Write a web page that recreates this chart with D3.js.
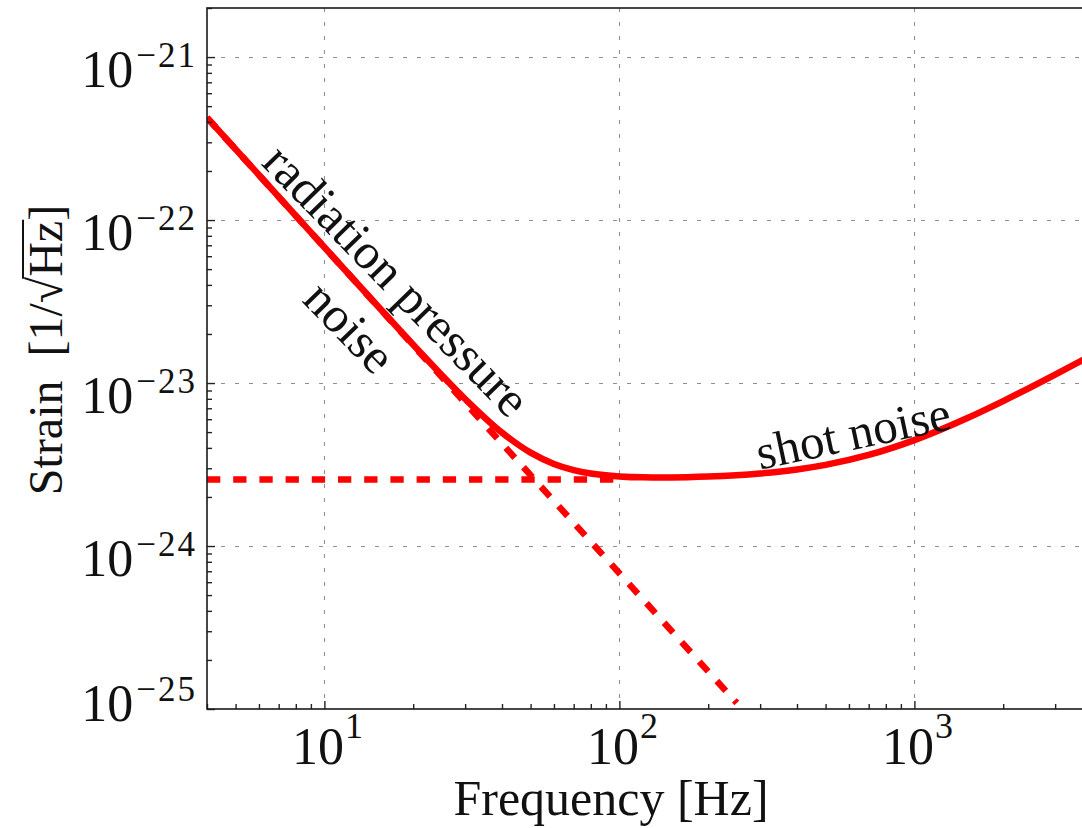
<!DOCTYPE html>
<html><head><meta charset="utf-8">
<script src="https://cdn.jsdelivr.net/npm/d3@7"></script>
<style>body{margin:0;background:#fff;} svg{display:block;}</style>
</head><body>
<svg id="chart" width="1082" height="828"></svg>
<script>
// ---- data ----
const frequencies = [4,5,6,8,10,15,20,30,40,50,60,70,80,100,120,150,200,300,400,500,700,1000,1500,2000,3000,4000];
const totalNoise = [4.25e-22,2.72e-22,1.889e-22,1.063e-22,6.805e-23,3.033e-23,1.719e-23,7.978e-24,4.962e-24,3.740e-24,3.190e-24,2.924e-24,2.787e-24,2.674e-24,2.640e-24,2.635e-24,2.667e-24,2.786e-24,2.949e-24,3.146e-24,3.620e-24,4.464e-24,6.054e-24,7.749e-24,1.1266e-23,1.4851e-23];
const radFreq = [4, 250];
const radNoise = [4.25e-22, 1.088e-25];
const shotFreq = [4, 100];
const shotNoise = [2.56e-24, 2.56e-24];
const xMajorTicks = [10, 100, 1000];
const xTickExponents = ["1", "2", "3"];
const yMajorTicks = [1e-21, 1e-22, 1e-23, 1e-24, 1e-25];
const yTickExponents = ["\u221221", "\u221222", "\u221223", "\u221224", "\u221225"];
const annotationTexts = ["radiation pressure", "noise", "shot noise"];
const annotationFreqs = [17.6, 12.2, 620];
const annotationValues = [4.28e-23, 2.21e-23, 4.93e-24];
const annotationAngles = [45.8, 45.8, -12];

// ---- layout ----
const plot = {left: 207, right: 1092, top: 8, bottom: 709};
const FONT = "'Liberation Serif', 'Times New Roman', serif";
const RED = "#ff0000";

const svg = d3.select("#chart");
const x = d3.scaleLog().domain([4, 4000]).range([plot.left, plot.right]);
const y = d3.scaleLog().domain([1e-25, 2e-21]).range([plot.bottom, plot.top]);

svg.append("defs").append("clipPath").attr("id", "clip")
  .append("rect").attr("x", plot.left).attr("y", plot.top)
  .attr("width", plot.right - plot.left).attr("height", plot.bottom - plot.top);

// grid
const grid = svg.append("g").attr("stroke", "#8f8f8f").attr("stroke-width", 1.1)
  .attr("stroke-dasharray", "4,10");
grid.selectAll("line.gx").data(xMajorTicks).join("line").attr("class", "gx")
  .attr("x1", d => Math.round(x(d)) + 0.5).attr("x2", d => Math.round(x(d)) + 0.5)
  .attr("y1", plot.top).attr("y2", plot.bottom);
grid.selectAll("line.gy").data(yMajorTicks.filter(d => d > 1e-25)).join("line").attr("class", "gy")
  .attr("y1", d => Math.round(y(d)) + 0.5).attr("y2", d => Math.round(y(d)) + 0.5)
  .attr("x1", plot.left).attr("x2", plot.right);

// curves
const gPlot = svg.append("g").attr("clip-path", "url(#clip)");
const line = d3.line().x(d => x(d[0])).y(d => y(d[1])).curve(d3.curveMonotoneX);
const straight = d3.line().x(d => x(d[0])).y(d => y(d[1]));

gPlot.append("path").datum(radFreq.map((f, i) => [f, radNoise[i]]))
  .attr("d", straight)
  .attr("fill", "none").attr("stroke", RED).attr("stroke-width", 6.5)
  .attr("stroke-dasharray", "13.3,12.9");
gPlot.append("path").datum(shotFreq.map((f, i) => [f, shotNoise[i]]))
  .attr("d", straight)
  .attr("fill", "none").attr("stroke", RED).attr("stroke-width", 6.5)
  .attr("stroke-dasharray", "13.3,12.9");
gPlot.append("path").datum(frequencies.map((f, i) => [f, totalNoise[i]]))
  .attr("d", line)
  .attr("fill", "none").attr("stroke", RED).attr("stroke-width", 6.5)
  .attr("stroke-linejoin", "round");

// axes ticks (inward)
const isPow10 = v => Math.abs(Math.log10(v) - Math.round(Math.log10(v))) < 1e-9;
const xMinor = x.ticks().filter(v => !isPow10(v));
const yMinor = y.ticks().filter(v => !isPow10(v));

function styleAxis(g) {
  g.selectAll("text").remove();
  g.select(".domain").remove();
  g.selectAll(".tick line").attr("stroke", "#222").attr("stroke-width", 1.4);
}
svg.append("g").attr("transform", `translate(${plot.left},0)`)
  .call(d3.axisLeft(y).tickValues(yMajorTicks).tickSizeInner(-8).tickSizeOuter(0)).call(styleAxis);
svg.append("g").attr("transform", `translate(${plot.left},0)`)
  .call(d3.axisLeft(y).tickValues(yMinor).tickSizeInner(-5).tickSizeOuter(0)).call(styleAxis);
svg.append("g").attr("transform", `translate(0,${plot.bottom})`)
  .call(d3.axisBottom(x).tickValues(xMajorTicks).tickSizeInner(-8).tickSizeOuter(0)).call(styleAxis);
svg.append("g").attr("transform", `translate(0,${plot.bottom})`)
  .call(d3.axisBottom(x).tickValues(xMinor).tickSizeInner(-5).tickSizeOuter(0)).call(styleAxis);

// spines
svg.append("rect").attr("x", plot.left).attr("y", plot.top)
  .attr("width", plot.right - plot.left).attr("height", plot.bottom - plot.top)
  .attr("fill", "none").attr("stroke", "#1a1a1a").attr("stroke-width", 1.6);

// y tick labels
const yl = svg.append("g").attr("font-family", FONT).attr("fill", "#111");
yMajorTicks.forEach((v, i) => {
  const last = i === yMajorTicks.length - 1;
  const t = yl.append("text").attr("text-anchor", "end")
    .attr("x", plot.left - 10).attr("y", y(v) + (last ? 12 : 30));
  t.append("tspan").attr("font-size", 52).text("10");
  t.append("tspan").attr("font-size", 35).attr("dy", -20).attr("dx", 3)
    .attr("letter-spacing", 2).text(yTickExponents[i]);
});

// x tick labels
const xl = svg.append("g").attr("font-family", FONT).attr("fill", "#111");
xMajorTicks.forEach((v, i) => {
  const t = xl.append("text").attr("text-anchor", "middle")
    .attr("x", x(v) + 3).attr("y", 764);
  t.append("tspan").attr("font-size", 52).text("10");
  t.append("tspan").attr("font-size", 36).attr("dy", -26).attr("dx", 1).text(xTickExponents[i]);
});

// axis labels
svg.append("text").attr("font-family", FONT).attr("font-size", 50).attr("fill", "#111")
  .attr("text-anchor", "middle").attr("x", 611).attr("y", 815).text("Frequency [Hz]");

const yg = svg.append("g").attr("transform", "translate(62,350) rotate(-90)");
const ylab = yg.append("text").attr("font-family", FONT).attr("font-size", 48).attr("fill", "#111")
  .attr("text-anchor", "middle").attr("x", 0).attr("y", 0);
ylab.append("tspan").text("Strain");
ylab.append("tspan").attr("dx", 24).text("[1/\u221A");
ylab.append("tspan").text("Hz");
ylab.append("tspan").text("]");
// overline over Hz (sqrt vinculum)
const node = ylab.node();
const full = node.textContent;
const iSqrt = full.indexOf("\u221A");
const iZ = full.indexOf("z]");
const eS = node.getExtentOfChar(iSqrt);
const eZ = node.getExtentOfChar(iZ);
yg.append("line").attr("x1", eS.x + eS.width - 2).attr("x2", eZ.x + eZ.width + 1)
  .attr("y1", eS.y + 4).attr("y2", eS.y + 4).attr("stroke", "#111").attr("stroke-width", 2);

// annotations
const ann = svg.append("g").attr("font-family", FONT).attr("fill", "#111");
annotationTexts.forEach((txt, i) => {
  const cx = x(annotationFreqs[i]), cy = y(annotationValues[i]);
  ann.append("text").attr("font-size", i === 2 ? 49 : 50)
    .attr("text-anchor", "middle").attr("dominant-baseline", "central")
    .attr("transform", `translate(${cx},${cy}) rotate(${annotationAngles[i]})`)
    .text(txt);
});
</script>
</body></html>
